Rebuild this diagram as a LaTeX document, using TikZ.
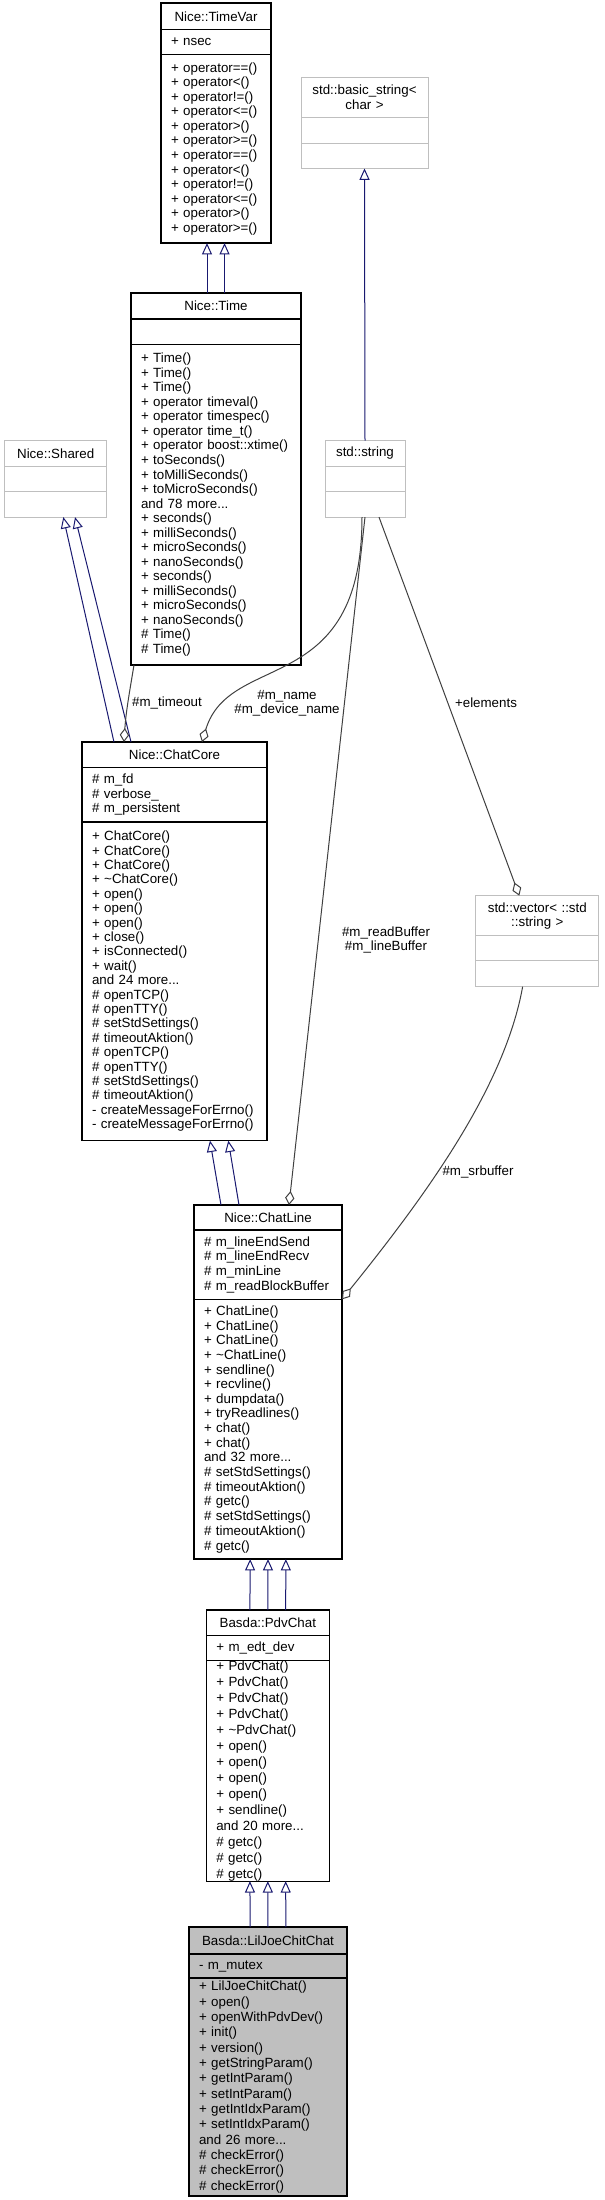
\documentclass[tikz,border=0pt]{standalone}
\usepackage{fontspec}
\setmainfont{Liberation Sans}
\usetikzlibrary{arrows.meta, positioning}
\definecolor{midnight}{RGB}{25,25,112}
\definecolor{edgegray}{RGB}{64,64,64}
\definecolor{lightframe}{RGB}{191,191,191}

\begin{document}
\begin{tikzpicture}[
  x=0.75pt, y=-0.75pt,
  uml/.style={draw=black, line width=0.9pt, fill=white, outer sep=0pt,
    inner xsep=7.5pt, inner ysep=0pt, anchor=north, align=left,
    font=\fontsize{10}{10.9}\selectfont},
  umlname/.style={uml, align=center},
  extern/.style={draw=lightframe, line width=0.75pt},
  focus/.style={fill=black!25},
  inherit/.style={draw=midnight, line width=0.75pt, -{Triangle[open, length=8.5pt, width=7.5pt]}},
  member/.style={draw=edgegray, line width=0.75pt, -{Diamond[open, length=10.5pt, width=7pt]}},
  lbl/.style={font=\fontsize{10}{10.5}\selectfont, align=center, inner sep=0pt}
]
\fill[white] (0,0) rectangle (604,2200);
\useasboundingbox (0,0) rectangle (604,2200);

% Nice::TimeVar
\node[umlname, text width=67.5pt, minimum height=19.9pt] (timevar) at (216,3) {Nice::TimeVar};
\node[uml, text width=67.5pt, minimum height=18.75pt, below=0pt of timevar] (timevar-a) {+ nsec};
\node[uml, text width=67.5pt, minimum height=141.4pt, below=0pt of timevar-a] (timevar-m)
  {+ operator==()\\+ operator<()\\+ operator!=()\\+ operator<=()\\+ operator>()\\+ operator>=()\\
   + operator==()\\+ operator<()\\+ operator!=()\\+ operator<=()\\+ operator>()\\+ operator>=()};

% std::basic_string< char >
\node[umlname, extern, text width=80.25pt, minimum height=30pt] (basic) at (364.5,77) {std::basic\_string<\\char >};
\node[uml, extern, text width=80.25pt, minimum height=19.5pt, below=0pt of basic] (basic-a) {};
\node[uml, extern, text width=80.25pt, minimum height=19.1pt, below=0pt of basic-a] (basic-m) {};

% Nice::Time
\node[umlname, text width=112.5pt, minimum height=19.5pt] (time) at (216,293) {Nice::Time};
\node[uml, text width=112.5pt, minimum height=19pt, below=0pt of time] (time-a) {};
\node[uml, text width=112.5pt, minimum height=240.5pt, below=0pt of time-a] (time-m)
  {+ Time()\\+ Time()\\+ Time()\\+ operator timeval()\\+ operator timespec()\\+ operator time\_t()\\
   + operator boost::xtime()\\+ toSeconds()\\+ toMilliSeconds()\\+ toMicroSeconds()\\and 78 more...\\
   + seconds()\\+ milliSeconds()\\+ microSeconds()\\+ nanoSeconds()\\+ seconds()\\+ milliSeconds()\\
   + microSeconds()\\+ nanoSeconds()\\\# Time()\\\# Time()};

% Nice::Shared
\node[umlname, extern, text width=61.5pt, minimum height=19pt] (shared) at (55.7,440.7) {Nice::Shared};
\node[uml, extern, text width=61.5pt, minimum height=19pt, below=0pt of shared] (shared-a) {};
\node[uml, extern, text width=61.5pt, minimum height=19.3pt, below=0pt of shared-a] (shared-m) {};

% std::string
\node[umlname, extern, text width=45pt, minimum height=19pt] (string) at (365,440.7) {std::string};
\node[uml, extern, text width=45pt, minimum height=19pt, below=0pt of string] (string-a) {};
\node[uml, extern, text width=45pt, minimum height=19.3pt, below=0pt of string-a] (string-m) {};

% Nice::ChatCore
\node[umlname, text width=123.75pt, minimum height=19.1pt] (chatcore) at (174.5,742) {Nice::ChatCore};
\node[uml, text width=123.75pt, minimum height=40.9pt, below=0pt of chatcore] (chatcore-a)
  {\# m\_fd\\\# verbose\_\\\# m\_persistent};
\node[uml, text width=123.75pt, minimum height=239pt, below=0pt of chatcore-a, font=\fontsize{10}{10.8}\selectfont] (chatcore-m)
  {+ ChatCore()\\+ ChatCore()\\+ ChatCore()\\+ \textasciitilde{}ChatCore()\\+ open()\\+ open()\\+ open()\\
   + close()\\+ isConnected()\\+ wait()\\and 24 more...\\\# openTCP()\\\# openTTY()\\\# setStdSettings()\\
   \# timeoutAktion()\\\# openTCP()\\\# openTTY()\\\# setStdSettings()\\\# timeoutAktion()\\
   - createMessageForErrno()\\- createMessageForErrno()};

% std::vector< ::std::string >
\node[umlname, extern, text width=77.5pt, minimum height=30.2pt] (vector) at (537.3,895.7) {std::vector< ::std\\::string >};
\node[uml, extern, text width=77.5pt, minimum height=18.75pt, below=0pt of vector] (vector-a) {};
\node[uml, extern, text width=77.5pt, minimum height=19.3pt, below=0pt of vector-a] (vector-m) {};

% Nice::ChatLine
\node[umlname, text width=96pt, minimum height=18.75pt] (chatline) at (268,1205) {Nice::ChatLine};
\node[uml, text width=96pt, minimum height=52pt, below=0pt of chatline, font=\fontsize{10}{11}\selectfont] (chatline-a)
  {\# m\_lineEndSend\\\# m\_lineEndRecv\\\# m\_minLine\\\# m\_readBlockBuffer};
\node[uml, text width=96pt, minimum height=194.8pt, below=0pt of chatline-a, font=\fontsize{10}{11}\selectfont] (chatline-m)
  {+ ChatLine()\\+ ChatLine()\\+ ChatLine()\\+ \textasciitilde{}ChatLine()\\+ sendline()\\+ recvline()\\
   + dumpdata()\\+ tryReadlines()\\+ chat()\\+ chat()\\and 32 more...\\\# setStdSettings()\\
   \# timeoutAktion()\\\# getc()\\\# setStdSettings()\\\# timeoutAktion()\\\# getc()};

% Basda::PdvChat
\node[umlname, text width=77.25pt, minimum height=19.3pt] (pdvchat) at (267.8,1610) {Basda::PdvChat};
\node[uml, text width=77.25pt, minimum height=18.75pt, below=0pt of pdvchat] (pdvchat-a) {+ m\_edt\_dev};
\node[uml, text width=77.25pt, minimum height=162pt, below=0pt of pdvchat-a, font=\fontsize{10}{12}\selectfont] (pdvchat-m)
  {+ PdvChat()\\+ PdvChat()\\+ PdvChat()\\+ PdvChat()\\+ \textasciitilde{}PdvChat()\\+ open()\\+ open()\\
   + open()\\+ open()\\+ sendline()\\and 20 more...\\\# getc()\\\# getc()\\\# getc()};

% Basda::LilJoeChitChat
\node[umlname, focus, text width=103.5pt, minimum height=20.25pt] (liljoe) at (268,1927) {Basda::LilJoeChitChat};
\node[uml, focus, text width=103.5pt, minimum height=18pt, below=0pt of liljoe] (liljoe-a) {- m\_mutex};
\node[uml, focus, text width=103.5pt, minimum height=163.5pt, below=0pt of liljoe-a, font=\fontsize{10}{11.5}\selectfont] (liljoe-m)
  {+ LilJoeChitChat()\\+ open()\\+ openWithPdvDev()\\+ init()\\+ version()\\+ getStringParam()\\
   + getIntParam()\\+ setIntParam()\\+ getIntIdxParam()\\+ setIntIdxParam()\\and 26 more...\\
   \# checkError()\\\# checkError()\\\# checkError()};

% inheritance
\draw[inherit] ([xshift=-6.75pt]time.north) -- ([xshift=-6.75pt]timevar-m.south);
\draw[inherit] ([xshift=6.4pt]time.north) -- ([xshift=6.4pt]timevar-m.south);
\draw[inherit] (string.north) -- (basic-m.south);
\draw[inherit] ([xshift=-45.4pt]chatcore.north) -- ([xshift=5.7pt]shared-m.south);
\draw[inherit] ([xshift=-32.6pt]chatcore.north) -- ([xshift=14.5pt]shared-m.south);
\draw[inherit] ([xshift=-35.25pt]chatline.north) -- ([xshift=26.6pt]chatcore-m.south);
\draw[inherit] ([xshift=-21.75pt]chatline.north) -- ([xshift=40.35pt]chatcore-m.south);
\draw[inherit] ([xshift=-13.4pt]pdvchat.north) -- ([xshift=-13.4pt]chatline-m.south);
\draw[inherit] (pdvchat.north) -- (chatline-m.south);
\draw[inherit] ([xshift=13.4pt]pdvchat.north) -- ([xshift=13.4pt]chatline-m.south);
\draw[inherit] ([xshift=-13.4pt]liljoe.north) -- ([xshift=-13.4pt]pdvchat-m.south);
\draw[inherit] (liljoe.north) -- (pdvchat-m.south);
\draw[inherit] ([xshift=13.4pt]liljoe.north) -- ([xshift=13.4pt]pdvchat-m.south);

% members
\draw[member] ([xshift=-61.5pt]time-m.south) .. controls +(-5,30) and +(2,-30) .. ([xshift=-37.9pt]chatcore.north);
\draw[member] ([xshift=-2.25pt]string-m.south) .. controls +(0,182) and +(28,-92) .. ([xshift=20.6pt]chatcore.north);
\draw[member] (string-m.south) -- ([xshift=15.75pt]chatline.north);
\draw[member] ([xshift=10.5pt]string-m.south) -- ([xshift=-13.5pt]vector.north);
\draw[member] ([xshift=-11pt]vector-m.south) .. controls +(-17.7,98.3) and +(88,-109) .. (chatline-a.south east);

% edge labels
\node[lbl] (timeout) at (167,703) {\#m\_timeout};
\node[lbl] (names) at (287,703) {\#m\_name\\\#m\_device\_name};
\node[lbl] (elements) at (486,703) {+elements};
\node[lbl] (buffers) at (386,940) {\#m\_readBuffer\\\#m\_lineBuffer};
\node[lbl] (srbuffer) at (478,1172) {\#m\_srbuffer};

\end{tikzpicture}
\end{document}
